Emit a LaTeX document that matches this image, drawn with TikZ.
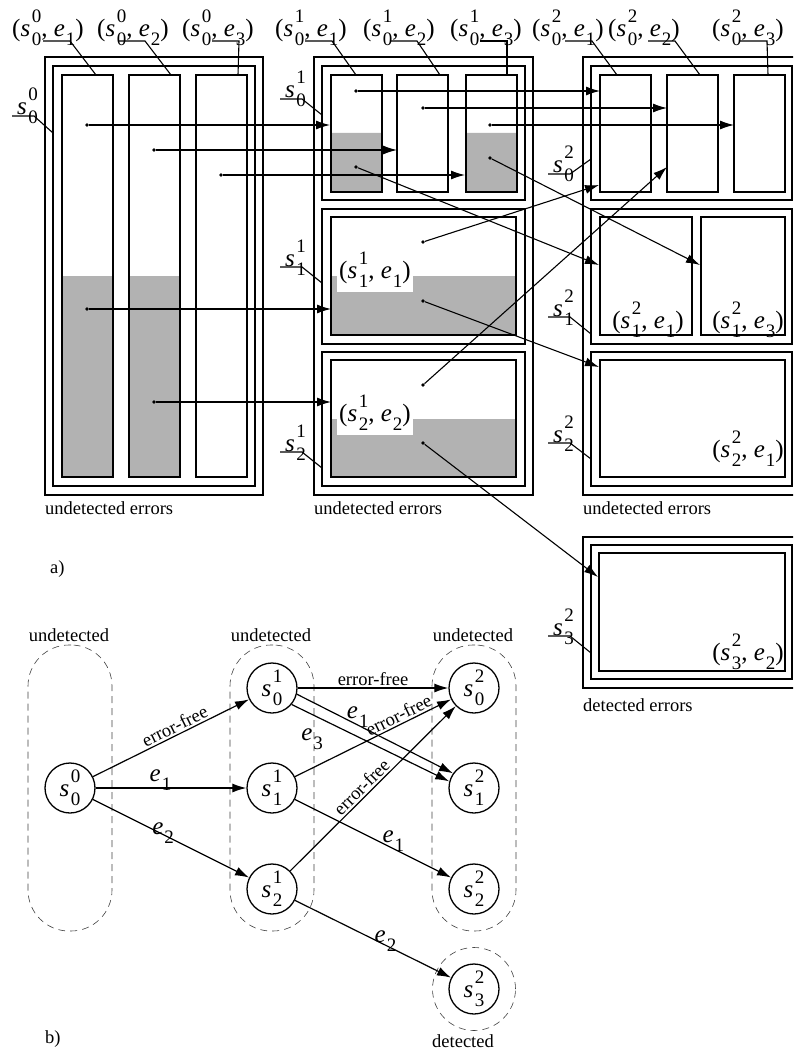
\documentclass[tikz,border=0pt]{standalone}
\usepackage{fontspec}
\setmainfont{Liberation Serif}
\usetikzlibrary{arrows.meta}

\definecolor{boxfill}{gray}{0.7}
\newcommand\txtsz{\fontsize{18.5}{20}\selectfont}
\newcommand\lblsz{\fontsize{25}{27}\selectfont}
\newcommand\supsz{\fontsize{19}{20}\selectfont}
\newcommand\sv[2]{\textit{s}\kern1.5pt\makebox[0pt][l]{\raisebox{14pt}{\supsz #1}}{\supsz\raisebox{-9pt}{#2}}}
\newcommand\ev[1]{\textit{e}\kern1pt{\supsz\raisebox{-9pt}{#1}}}
\newcommand\pair[3]{(\sv{#1}{#2}, \ev{#3})}
\newcommand\st[2]{\raisebox{-6pt}{\sv{#1}{#2}}}

\begin{document}
\begin{tikzpicture}[x=1pt, y=-1pt,
    frame/.style={line width=1.5pt},
    lead/.style={line width=1.1pt},
    ptr/.style={line width=1.1pt, -{Latex[length=14pt,width=9pt]}},
    dot/.style={circle, fill, inner sep=0pt, minimum size=3.8pt},
    state/.style={circle, draw, line width=1.3pt, minimum size=50pt, inner sep=0pt, font=\lblsz},
    grp/.style={draw=black!75, dash pattern=on 7pt off 5pt, line width=0.6pt},
    edge/.style={line width=1.2pt, -{Latex[length=14pt,width=9pt]}},
    txt/.style={font=\txtsz, inner sep=0pt},
    lbl/.style={font=\lblsz, inner sep=0pt}
  ]
  \useasboundingbox (0,0) rectangle (793,1051);
  \clip (0,0) rectangle (793,1051);

  % a) error sets
  \fill[boxfill] (62,276) rectangle (113,477) (129,276) rectangle (180,477);
  \fill[boxfill] (331,133) rectangle (381,192) (466,133) rectangle (516,192);
  \fill[boxfill] (331,276) rectangle (516,335) (331,419) rectangle (516,477);

  \draw[frame] (45,57) rectangle (263,495) (53,66) rectangle (255,486);
  \foreach \x in {62,129,196}
    \draw[frame] (\x,75) rectangle +(51,402);

  \draw[frame] (314,57) rectangle (533,495);
  \draw[frame] (322,66) rectangle (525,200) (322,209) rectangle (525,344)
    (322,352) rectangle (525,486);
  \foreach \x in {331,397,466}
    \draw[frame] (\x,75) rectangle +(51,117);
  \draw[frame] (331,217) rectangle (516,335) (331,360) rectangle (516,477);

  \draw[frame] (583,57) rectangle (810,495);
  \draw[frame] (591,66) rectangle (792,200) (591,209) rectangle (792,344)
    (591,352) rectangle (792,486);
  \foreach \x in {600,667,734}
    \draw[frame] (\x,75) rectangle +(51,117);
  \draw[frame] (600,217) rectangle (692,335) (701,217) rectangle (785,335)
    (600,360) rectangle (785,477);

  \draw[frame] (583,537) rectangle (810,688) (591,545) rectangle (792,679)
    (599,553) rectangle (785,671);

  \node[lbl, fill=white, inner xsep=2pt, inner ysep=5pt, anchor=base west] (m1) at (337,278) {\pair{1}{1}{1}};
  \node[lbl, fill=white, inner xsep=2pt, inner ysep=5pt, anchor=base west] (m2) at (337,421) {\pair{1}{2}{2}};
  \node[lbl, anchor=base east] (r1) at (684,328) {\pair{2}{1}{1}};
  \node[lbl, anchor=base east] (r2) at (784,328) {\pair{2}{1}{3}};
  \node[lbl, anchor=base east] (r3) at (784,457) {\pair{2}{2}{1}};
  \node[lbl, anchor=base east] (r4) at (784,660) {\pair{2}{3}{2}};

  \foreach \i/\x/\p/\b/\e/\s/\u in {1/12/0/0/1/43/96, 2/97/0/0/2/118/171, 3/182/0/0/3/212/238,
      4/275/1/0/1/305/356, 5/363/1/0/2/390/440, 6/450/1/0/3/480/507,
      7/532/2/0/1/565/617, 8/608/2/0/2/648/700, 9/712/2/0/3/740/768} {
    \node[lbl, anchor=base west] (top\i) at (\x,37) {\pair{\p}{\b}{\e}};
    \draw[lead] (\s,41) -- ++(27,0) -- (\u,75);
  }

  \foreach \i/\x/\y/\p/\b/\u/\v in {1/12/116/0/0/53/133, 2/280/99/1/0/322/115,
      3/280/267/1/1/322/283, 4/280/452/1/2/322/468, 5/548/174/2/0/591/159,
      6/548/317/2/1/591/334, 7/548/443/2/2/591/459, 8/548/636/2/3/591/653} {
    \node[lbl, anchor=base west] (set\i) at (\x+5,\y-1) {\sv{\p}{\b}};
    \draw[lead] (\x,\y) -- ++(22,0) -- (\u,\v);
  }

  \foreach \i/\x/\y/\u/\v in {1/87/125/330/125, 2/154/150/397/150, 3/221/175/465/175,
      4/87/309/331/309, 5/154/402/331/402, 6/356/91/600/91, 7/423/108/667/108,
      8/490/125/734/125, 9/423/242/599/185, 10/423/385/667/167, 11/356/167/599/265,
      12/490/158/700/265, 13/423/301/599/367, 14/423/443/598/577} {
    \node[dot] (d\i) at (\x,\y) {};
    \coordinate (t\i) at (\u,\v);
    \draw[ptr] (d\i) -- (t\i);
  }

  \node[txt, anchor=base west] (und1) at (45,514) {undetected errors};
  \node[txt, anchor=base west] (und2) at (314,514) {undetected errors};
  \node[txt, anchor=base west] (und3) at (583,514) {undetected errors};
  \node[txt, anchor=base west] (det) at (583,711) {detected errors};
  \node[txt, anchor=base west] (parta) at (50,573) {a)};

  % b) state graph
  \node[grp, rounded corners=41pt, minimum width=84pt, minimum height=286pt] (g0) at (70,788) {};
  \node[grp, rounded corners=41pt, minimum width=84pt, minimum height=286pt] (g1) at (272,788) {};
  \node[grp, rounded corners=41pt, minimum width=84pt, minimum height=286pt] (g2) at (474,788) {};
  \node[grp, circle, minimum size=83pt] (g3) at (474,989) {};

  \node[txt, anchor=base] (h0) at (69,641) {undetected};
  \node[txt, anchor=base] (h1) at (271,641) {undetected};
  \node[txt, anchor=base] (h2) at (473,641) {undetected};
  \node[txt, anchor=base] (h3) at (463,1047) {detected};
  \node[txt, anchor=base west] (partb) at (45,1043) {b)};

  \node[state] (s00) at (70,788) {\st{0}{0}};
  \node[state] (s01) at (272,688) {\st{1}{0}};
  \node[state] (s11) at (272,788) {\st{1}{1}};
  \node[state] (s21) at (272,889) {\st{1}{2}};
  \node[state] (s02) at (474,688) {\st{2}{0}};
  \node[state] (s12) at (474,788) {\st{2}{1}};
  \node[state] (s22) at (474,889) {\st{2}{2}};
  \node[state] (s32) at (474,989) {\st{2}{3}};

  \draw[edge] (s00) -- node[txt, sloped, above=2pt, pos=0.55] (e1) {error-free} (s01);
  \draw[edge] (s00) -- node[lbl, above=-3pt, pos=0.43] (e2) {\ev{1}} (s11);
  \draw[edge] (s00) -- node[lbl, above=-9pt, pos=0.45] (e3) {\ev{2}} (s21);
  \draw[edge] (s01) -- node[txt, above=2pt] (e4) {error-free} (s02);
  \draw[edge] (s01.-14) -- node[lbl, above=-3pt, pos=0.39] (e5) {\ev{1}} (s12.145);
  \draw[edge] (s01.-40) -- node[lbl, below=14pt, pos=0.13] (e6) {\ev{3}} (s12.165);
  \draw[edge] (s11) -- node[txt, sloped, above=2pt, pos=0.69] (e7) {error-free} (s02);
  \draw[edge] (s21) -- node[txt, sloped, above=2pt, pos=0.47] (e8) {error-free} (s02);
  \draw[edge] (s11) -- node[lbl, above=-3pt, pos=0.63] (e9) {\ev{1}} (s22);
  \draw[edge] (s21) -- node[lbl, above=-7pt, pos=0.58] (e10) {\ev{2}} (s32);
\end{tikzpicture}
\end{document}
